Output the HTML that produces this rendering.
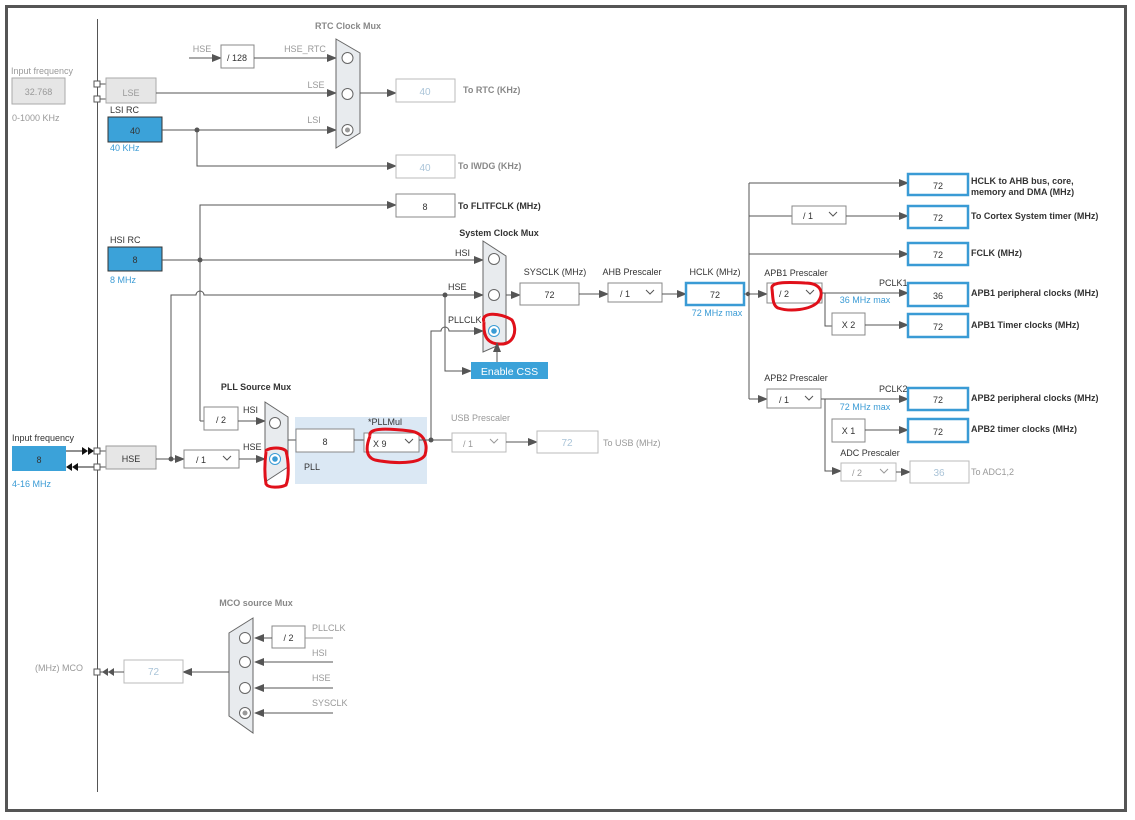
<!DOCTYPE html>
<html><head><meta charset="utf-8"><style>
html,body{margin:0;padding:0;background:#fff;}
svg{display:block;font-family:"Liberation Sans",Arial,sans-serif;}
.g{fill:#999;font-size:9px}
.d{fill:#333;font-size:9px}
.b{fill:#333;font-size:9px;font-weight:bold}
.gb{fill:#888;font-size:9px;font-weight:bold}
.bl{fill:#3a9bd5;font-size:9px}
.bx{fill:#fff;stroke:#888;stroke-width:1}
.bxl{fill:#fff;stroke:#bbb;stroke-width:1}
.bxb{fill:#fff;stroke:#3a9bd5;stroke-width:2.5}
.ln{stroke:#555;stroke-width:1;fill:none}
.lg{stroke:#999;stroke-width:1;fill:none}
.mux{fill:#e8ebee;stroke:#666;stroke-width:1}
.c{fill:#fff;stroke:#666;stroke-width:1}
.red{fill:none;stroke:#e0101a;stroke-width:3}
</style></head><body>
<svg width="1135" height="820" viewBox="0 0 1135 820" xmlns="http://www.w3.org/2000/svg">
<defs>
<marker id="a" markerWidth="10" markerHeight="8" refX="9" refY="4" orient="auto" markerUnits="userSpaceOnUse"><path d="M0,0 L10,4 L0,8 z" fill="#555"/></marker>
</defs>
<rect x="6.5" y="6.5" width="1119" height="804" fill="none" stroke="#555" stroke-width="3"/>
<line x1="97.5" y1="19" x2="97.5" y2="792" stroke="#555"/>

<!-- LSE / input freq -->
<text x="11" y="74" class="g">Input frequency</text>
<rect x="12" y="78" width="53" height="26" fill="#e6e6e6" stroke="#aaa"/>
<text x="38.5" y="95" class="g" text-anchor="middle" font-size="11">32.768</text>
<text x="12" y="121" class="g">0-1000 KHz</text>
<rect x="94" y="81" width="6" height="6" fill="#fff" stroke="#555"/>
<rect x="94" y="96" width="6" height="6" fill="#fff" stroke="#555"/>
<path d="M100 84 H106 M100 99 H106" class="ln"/>
<rect x="106" y="78" width="50" height="25" fill="#e6e6e6" stroke="#aaa"/>
<text x="131" y="96" class="g" text-anchor="middle" font-size="13">LSE</text>
<text x="110" y="113" class="d" font-size="10">LSI RC</text>
<rect x="108" y="117" width="54" height="25" fill="#3ba2d9" stroke="#333"/>
<text x="135" y="134" class="d" text-anchor="middle" font-size="11">40</text>
<text x="110" y="151" class="bl">40 KHz</text>

<!-- RTC mux -->
<text x="348" y="29" class="gb" text-anchor="middle">RTC Clock Mux</text>
<text x="202" y="52" class="g" text-anchor="middle">HSE</text>
<line x1="189" y1="58" x2="221" y2="58" class="ln" marker-end="url(#a)"/>
<rect x="221" y="45" width="33" height="23" class="bx"/>
<text x="237" y="61" class="d" text-anchor="middle" font-size="10">/ 128</text>
<text x="305" y="52" class="g" text-anchor="middle">HSE_RTC</text>
<line x1="254" y1="58" x2="336" y2="58" class="ln" marker-end="url(#a)"/>
<text x="316" y="88" class="g" text-anchor="middle">LSE</text>
<line x1="156" y1="93" x2="336" y2="93" class="ln" marker-end="url(#a)"/>
<text x="314" y="123" class="g" text-anchor="middle">LSI</text>
<line x1="162" y1="130" x2="336" y2="130" class="ln" marker-end="url(#a)"/>
<circle cx="197" cy="130" r="2.5" fill="#555"/>
<path d="M336 39 L360 53 L360 133 L336 148 Z" class="mux"/>
<circle cx="347.5" cy="58" r="5.5" class="c"/>
<circle cx="347.5" cy="94" r="5.5" class="c"/>
<circle cx="347.5" cy="130" r="5.5" class="c"/><circle cx="347.5" cy="130" r="2.5" fill="#999"/>
<line x1="360" y1="93" x2="396" y2="93" class="ln" marker-end="url(#a)"/>
<rect x="396" y="79" width="59" height="23" class="bxl"/>
<text x="425" y="95" fill="#aac4d8" font-size="10" text-anchor="middle">40</text>
<text x="463" y="93" class="gb">To RTC (KHz)</text>
<path d="M197 130 V166 H396" class="ln" marker-end="url(#a)"/>
<rect x="396" y="155" width="59" height="23" class="bxl"/>
<text x="425" y="171" fill="#aac4d8" font-size="10" text-anchor="middle">40</text>
<text x="458" y="169" class="gb">To IWDG (KHz)</text>

<!-- FLITF / HSI -->
<path d="M200 421 V205 H396" class="ln" marker-end="url(#a)"/>
<rect x="396" y="194" width="59" height="23" class="bx"/>
<text x="425" y="210" class="d" text-anchor="middle" font-size="10">8</text>
<text x="458" y="209" class="b">To FLITFCLK (MHz)</text>
<text x="110" y="243" class="d" font-size="10">HSI RC</text>
<rect x="108" y="247" width="54" height="24" fill="#3ba2d9" stroke="#333"/>
<text x="135" y="263" class="d" text-anchor="middle" font-size="11">8</text>
<text x="110" y="283" class="bl">8 MHz</text>
<line x1="162" y1="260" x2="483" y2="260" class="ln" marker-end="url(#a)"/>
<circle cx="200" cy="260" r="2.5" fill="#555"/>
<text x="455" y="256" class="d">HSI</text>
<path d="M171 459 V295 H196 A4 4 0 0 1 204 295 H483" class="ln" marker-end="url(#a)"/>
<circle cx="445" cy="295" r="2.5" fill="#555"/>
<text x="448" y="290" class="d">HSE</text>
<path d="M445 295 V371 H471" class="ln" marker-end="url(#a)"/>
<path d="M431 440 V331 H441 A4 4 0 0 1 449 331 H483" class="ln" marker-end="url(#a)"/>
<text x="448" y="323" class="d">PLLCLK</text>

<!-- System clock mux -->
<text x="499" y="236" class="b" text-anchor="middle">System Clock Mux</text>
<path d="M483 241 L506 256 L506 342 L483 352 Z" class="mux"/>
<circle cx="494" cy="259" r="5.5" class="c"/>
<circle cx="494" cy="295" r="5.5" class="c"/>
<circle cx="494" cy="331" r="5.5" fill="#fff" stroke="#3a9bd5"/><circle cx="494" cy="331" r="2.8" fill="#3a9bd5"/>
<path d="M484 322 C480 312,500 312,512 320 C518 330,514 345,500 344 C488 344,483 337,484 322" class="red"/>
<rect x="471" y="362" width="77" height="17" fill="#3ba2d9"/>
<text x="509.5" y="375" fill="#fff" font-size="10.5" text-anchor="middle">Enable CSS</text>
<line x1="497" y1="362" x2="497" y2="343" class="ln" marker-end="url(#a)"/>

<text x="555" y="275" class="d" text-anchor="middle">SYSCLK (MHz)</text>
<line x1="506" y1="295" x2="520" y2="295" class="ln" marker-end="url(#a)"/>
<rect x="520" y="283" width="59" height="22" class="bx"/>
<text x="549.5" y="298" class="d" text-anchor="middle" font-size="11">72</text>
<line x1="579" y1="294" x2="608" y2="294" class="ln" marker-end="url(#a)"/>
<text x="632" y="275" class="d" text-anchor="middle">AHB Prescaler</text>
<rect x="608" y="283" width="54" height="19" class="bx"/>
<text x="620" y="297" class="d" font-size="10">/ 1</text>
<path d="M646 290 l4 4 l4 -4" class="ln"/>
<line x1="662" y1="294" x2="686" y2="294" class="ln" marker-end="url(#a)"/>
<text x="715" y="275" class="d" text-anchor="middle">HCLK (MHz)</text>
<rect x="686" y="283" width="58" height="22" class="bxb"/>
<text x="715" y="298" class="d" text-anchor="middle" font-size="11">72</text>
<text x="717" y="316" class="bl" text-anchor="middle">72 MHz max</text>
<line x1="744" y1="294" x2="767" y2="294" class="ln" marker-end="url(#a)"/>
<circle cx="748" cy="294" r="2.2" fill="#555"/>

<!-- right bus -->
<line x1="749" y1="183" x2="749" y2="399" class="ln"/>
<line x1="749" y1="183" x2="908" y2="183" class="ln" marker-end="url(#a)"/>
<rect x="908" y="174" width="60" height="21" class="bxb"/>
<text x="938" y="189" class="d" text-anchor="middle" font-size="11">72</text>
<text x="971" y="184" class="b">HCLK to AHB bus, core,</text>
<text x="971" y="195" class="b">memory and DMA (MHz)</text>
<line x1="749" y1="216" x2="792" y2="216" class="ln"/>
<rect x="792" y="206" width="54" height="18" class="bx"/>
<text x="803" y="219" class="d" font-size="10">/ 1</text>
<path d="M829 212 l4 4 l4 -4" class="ln"/>
<line x1="846" y1="216" x2="908" y2="216" class="ln" marker-end="url(#a)"/>
<rect x="908" y="206" width="60" height="22" class="bxb"/>
<text x="938" y="221" class="d" text-anchor="middle" font-size="11">72</text>
<text x="971" y="219" class="b">To Cortex System timer (MHz)</text>
<line x1="749" y1="254" x2="908" y2="254" class="ln" marker-end="url(#a)"/>
<rect x="908" y="243" width="60" height="22" class="bxb"/>
<text x="938" y="258" class="d" text-anchor="middle" font-size="11">72</text>
<text x="971" y="256" class="b">FCLK (MHz)</text>

<text x="796" y="276" class="d" text-anchor="middle">APB1 Prescaler</text>
<rect x="767" y="283" width="55" height="20" class="bx"/>
<text x="779" y="297" class="d" font-size="10">/ 2</text>
<path d="M806 290 l4 4 l4 -4" class="ln"/>
<path d="M772 289 C770 282,785 282,805 283 C820 283,825 292,818 302 C810 310,790 312,778 308 C772 305,773 296,772 289" class="red"/>
<text x="879" y="286" class="d">PCLK1</text>
<line x1="822" y1="293" x2="908" y2="293" class="ln" marker-end="url(#a)"/>
<text x="865" y="303" class="bl" text-anchor="middle">36 MHz max</text>
<rect x="908" y="283" width="60" height="23" class="bxb"/>
<text x="938" y="299" class="d" text-anchor="middle" font-size="11">36</text>
<text x="971" y="296" class="b">APB1 peripheral clocks (MHz)</text>
<path d="M825 293 V326 H832" class="ln"/>
<rect x="832" y="313" width="33" height="22" class="bx"/>
<text x="848.5" y="328" class="d" text-anchor="middle" font-size="10">X 2</text>
<line x1="865" y1="325" x2="908" y2="325" class="ln" marker-end="url(#a)"/>
<rect x="908" y="314" width="60" height="23" class="bxb"/>
<text x="938" y="330" class="d" text-anchor="middle" font-size="11">72</text>
<text x="971" y="328" class="b">APB1 Timer clocks (MHz)</text>

<text x="796" y="381" class="d" text-anchor="middle">APB2 Prescaler</text>
<line x1="749" y1="399" x2="767" y2="399" class="ln" marker-end="url(#a)"/>
<rect x="767" y="389" width="54" height="19" class="bx"/>
<text x="779" y="403" class="d" font-size="10">/ 1</text>
<path d="M805 396 l4 4 l4 -4" class="ln"/>
<text x="879" y="392" class="d">PCLK2</text>
<line x1="821" y1="399" x2="908" y2="399" class="ln" marker-end="url(#a)"/>
<text x="865" y="410" class="bl" text-anchor="middle">72 MHz max</text>
<rect x="908" y="388" width="60" height="22" class="bxb"/>
<text x="938" y="403" class="d" text-anchor="middle" font-size="11">72</text>
<text x="971" y="401" class="b">APB2 peripheral clocks (MHz)</text>
<path d="M825 399 V471 H841" class="ln" marker-end="url(#a)"/>
<rect x="832" y="419" width="33" height="23" class="bx"/>
<text x="848.5" y="434" class="d" text-anchor="middle" font-size="10">X 1</text>
<line x1="865" y1="430" x2="908" y2="430" class="ln" marker-end="url(#a)"/>
<rect x="908" y="419" width="60" height="23" class="bxb"/>
<text x="938" y="435" class="d" text-anchor="middle" font-size="11">72</text>
<text x="971" y="432" class="b">APB2 timer clocks (MHz)</text>
<text x="870" y="456" class="d" text-anchor="middle">ADC Prescaler</text>
<rect x="841" y="463" width="55" height="18" class="bxl"/>
<text x="852" y="476" class="g" font-size="10">/ 2</text>
<path d="M880 469 l4 4 l4 -4" class="lg"/>
<line x1="896" y1="472" x2="910" y2="472" class="ln" marker-end="url(#a)"/>
<rect x="910" y="461" width="59" height="22" class="bxl"/>
<text x="939" y="476" fill="#aac4d8" font-size="10" text-anchor="middle">36</text>
<text x="971" y="475" class="g">To ADC1,2</text>

<!-- HSE input / PLL -->
<text x="12" y="441" class="d">Input frequency</text>
<rect x="12" y="446" width="54" height="25" fill="#3ba2d9"/>
<text x="39" y="463" class="d" text-anchor="middle" font-size="11">8</text>
<text x="12" y="487" class="bl">4-16 MHz</text>
<line x1="66" y1="451" x2="85" y2="451" stroke="#222"/>
<path d="M82 447 l6 4 l-6 4z M88 447 l6 4 l-6 4z" fill="#111"/>
<line x1="78" y1="467" x2="94" y2="467" stroke="#222"/>
<path d="M72 463 l-6 4 l6 4z M78 463 l-6 4 l6 4z" fill="#111"/>
<rect x="94" y="448" width="6" height="6" fill="#fff" stroke="#555"/>
<rect x="94" y="464" width="6" height="6" fill="#fff" stroke="#555"/>
<path d="M100 451 H106 M100 467 H106" class="ln"/>
<rect x="106" y="446" width="50" height="23" fill="#e6e6e6" stroke="#999"/>
<text x="131" y="462" class="d" text-anchor="middle" font-size="13">HSE</text>
<line x1="156" y1="459" x2="184" y2="459" class="ln" marker-end="url(#a)"/>
<circle cx="171" cy="459" r="2.5" fill="#555"/>
<rect x="184" y="450" width="55" height="18" class="bx"/>
<text x="196" y="463" class="d" font-size="10">/ 1</text>
<path d="M223 456 l4 4 l4 -4" class="ln"/>
<line x1="239" y1="459" x2="265" y2="459" class="ln" marker-end="url(#a)"/>
<line x1="200" y1="421" x2="204" y2="421" class="ln"/>
<rect x="204" y="407" width="34" height="23" class="bx"/>
<text x="221" y="423" class="d" text-anchor="middle" font-size="10">/ 2</text>
<line x1="238" y1="421" x2="265" y2="421" class="ln" marker-end="url(#a)"/>
<text x="256" y="390" class="b" text-anchor="middle">PLL  Source Mux</text>
<rect x="295" y="417" width="132" height="67" fill="#dbe8f4"/>
<path d="M265 402 L288 417 L288 467 L265 482 Z" class="mux"/>
<text x="243" y="413" class="d">HSI</text>
<text x="243" y="450" class="d">HSE</text>
<circle cx="275" cy="423" r="5.5" class="c"/>
<circle cx="275" cy="459" r="5.5" fill="#fff" stroke="#3a9bd5"/><circle cx="275" cy="459" r="2.8" fill="#3a9bd5"/>
<path d="M266 452 C264 448,282 446,286 451 C289 462,289 478,286 485 C280 488,268 488,266 484 C264 472,265 460,266 452" class="red"/>
<line x1="288" y1="440" x2="296" y2="440" class="ln"/>
<rect x="296" y="429" width="58" height="23" class="bx"/>
<text x="325" y="445" class="d" text-anchor="middle" font-size="11">8</text>
<text x="304" y="470" class="d">PLL</text>
<text x="385" y="425" class="d" text-anchor="middle">*PLLMul</text>
<line x1="354" y1="440" x2="364" y2="440" class="ln"/>
<rect x="364" y="433" width="55" height="19" class="bx"/>
<text x="373" y="447" class="d" font-size="10">X 9</text>
<path d="M405 439 l4 4 l4 -4" class="ln"/>
<path d="M370 436 C368 428,385 428,410 431 C425 433,428 445,425 455 C420 464,395 464,375 460 C365 457,366 446,370 436" class="red"/>
<line x1="419" y1="440" x2="452" y2="440" class="ln"/>
<circle cx="431" cy="440" r="2.5" fill="#555"/>
<text x="451" y="421" class="g">USB Prescaler</text>
<rect x="452" y="433" width="54" height="19" class="bxl"/>
<text x="463" y="447" class="g" font-size="10">/ 1</text>
<path d="M490 439 l4 4 l4 -4" class="lg"/>
<line x1="506" y1="442" x2="537" y2="442" class="ln" marker-end="url(#a)"/>
<rect x="537" y="431" width="61" height="22" class="bxl"/>
<text x="567" y="446" fill="#aac4d8" font-size="10" text-anchor="middle">72</text>
<text x="603" y="446" class="g">To USB (MHz)</text>

<!-- MCO -->
<text x="256" y="606" class="gb" text-anchor="middle">MCO source Mux</text>
<path d="M253 618 L229 633 L229 716 L253 733 Z" class="mux"/>
<circle cx="245" cy="638" r="5.5" class="c"/>
<circle cx="245" cy="662" r="5.5" class="c"/>
<circle cx="245" cy="688" r="5.5" class="c"/>
<circle cx="245" cy="713" r="5.5" class="c"/><circle cx="245" cy="713" r="2.5" fill="#999"/>
<rect x="272" y="626" width="33" height="22" class="bx"/>
<text x="288.5" y="641" class="d" text-anchor="middle" font-size="10">/ 2</text>
<line x1="333" y1="638" x2="305" y2="638" class="lg"/>
<line x1="272" y1="638" x2="255" y2="638" class="ln" marker-end="url(#a)"/>
<text x="312" y="631" class="g">PLLCLK</text>
<line x1="333" y1="662" x2="255" y2="662" class="ln" marker-end="url(#a)"/>
<text x="312" y="656" class="g">HSI</text>
<line x1="333" y1="688" x2="255" y2="688" class="ln" marker-end="url(#a)"/>
<text x="312" y="681" class="g">HSE</text>
<line x1="333" y1="713" x2="255" y2="713" class="ln" marker-end="url(#a)"/>
<text x="312" y="706" class="g">SYSCLK</text>
<line x1="229" y1="672" x2="183" y2="672" class="ln" marker-end="url(#a)"/>
<rect x="124" y="660" width="59" height="23" class="bxl"/>
<text x="153.5" y="675" fill="#aac4d8" font-size="10" text-anchor="middle">72</text>
<line x1="124" y1="672" x2="100" y2="672" class="ln"/>
<path d="M108 668 l-6 4 l6 4z M114 668 l-6 4 l6 4z" fill="#555"/>
<rect x="94" y="669" width="6" height="6" fill="#fff" stroke="#555"/>
<text x="35" y="671" class="g">(MHz) MCO</text>
</svg>
</body></html>
